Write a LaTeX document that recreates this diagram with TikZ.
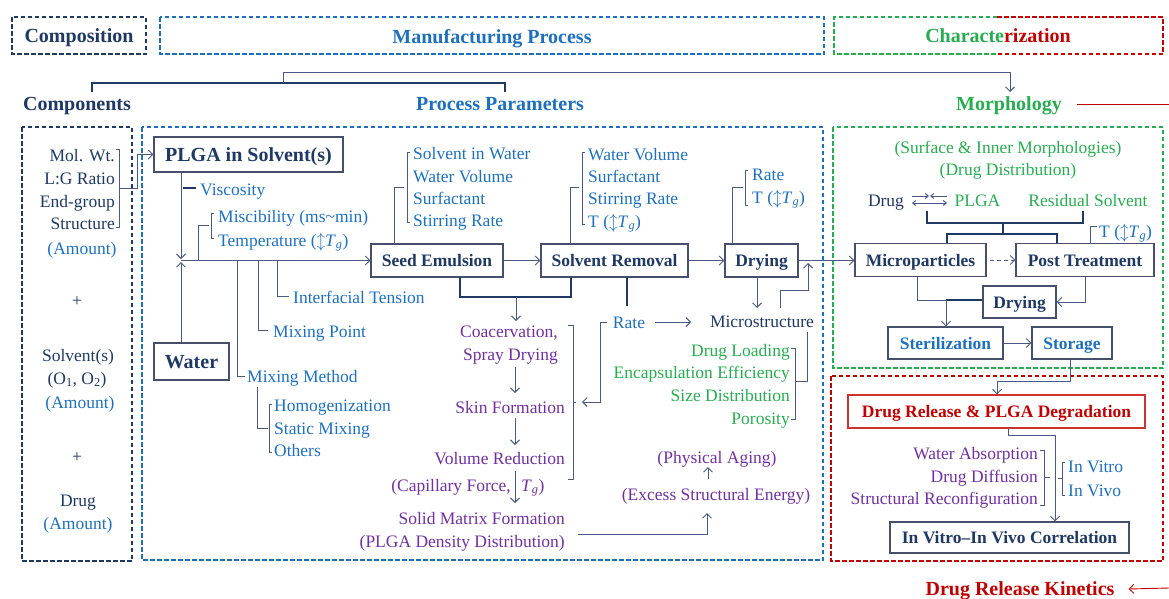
\documentclass[tikz,border=0pt]{standalone}
\usepackage{fontspec}
\setmainfont{Liberation Serif}
\usetikzlibrary{arrows.meta}
\definecolor{navy}{RGB}{31,56,100}
\definecolor{pblue}{RGB}{30,112,190}
\definecolor{pgreen}{RGB}{40,172,80}
\definecolor{pred}{RGB}{192,0,0}
\definecolor{ppurple}{RGB}{112,48,160}
\definecolor{lc}{RGB}{75,90,130}
\definecolor{bc}{RGB}{70,80,110}
\tikzset{
 tx/.style={inner sep=0, font=\fontsize{17.5}{21}\selectfont, text height=14pt, text depth=2pt},
 hd/.style={inner sep=0, font=\fontsize{20}{24}\selectfont\bfseries, text height=15.5pt, text depth=2.5pt},
 bx/.style={draw=bc, line width=1.1pt, inner sep=0, text height=14pt, text depth=2pt, font=\fontsize{17.5}{21}\selectfont\bfseries, text=navy, fill=white},
 bxl/.style={bx, font=\fontsize{20}{24}\selectfont\bfseries, text height=15.5pt, text depth=2.5pt},
 grp/.style={line width=1.4pt, dash pattern=on 4.5pt off 2.5pt},
 lnk/.style={draw=lc, line width=1pt},
 tk/.style={draw=navy, line width=1.8pt},
 arr/.style={-{Straight Barb[length=4.5pt,width=9pt]}},
 sarr/.style={-{Straight Barb[length=3pt,width=5pt]}},
}
\newcommand{\Tg}{\textit{T}\textsubscript{\textit{g}}}
\begin{document}
\begin{tikzpicture}[x=1pt,y=-1pt]
\useasboundingbox (0,0) rectangle (1169,598);

% ---------- top headers ----------
\draw[grp,navy] (12,17) rectangle (146,54);
\draw[grp,pblue] (160,17) rectangle (824,54);
\draw[grp,pgreen] (997,17) -- (834,17) -- (834,54) -- (997,54);
\draw[grp,pred] (997,17) -- (1163,17) -- (1163,54) -- (997,54);
\node[hd,text=navy] (hcomp) at (79,36) {Composition};
\node[hd,text=pblue] (hman) at (492,37) {Manufacturing Process};
\node[hd] (hchar) at (998,36) {\textcolor{pgreen}{Characte}\textcolor{pred}{rization}};

\draw[navy,line width=1.5pt] (92,92) -- (92,83) -- (505,83) -- (505,92);
\draw[lnk,arr] (283,83) -- (283,72) -- (1010,72) -- (1010,92);

\node[hd,text=navy] (hcompo) at (77,104) {Components};
\node[hd,text=pblue] (hpp) at (500,104) {Process Parameters};
\node[hd,text=pgreen] (hmorph) at (1009,104) {Morphology};
\draw[pred,line width=1pt] ([xshift=15pt]hmorph.east) -- (1169,104);

% ---------- group boxes ----------
\draw[grp,navy] (22,127) rectangle (132,561);
\draw[grp,pblue] (142,127) rectangle (823,560);
\draw[grp,pgreen] (833,127) rectangle (1163,368);
\draw[grp,pred] (831,376) rectangle (1163,561);

\node[hd,text=pred] (hdrk) at (1020,589) {Drug Release Kinetics};
\draw[pred,line width=0.9pt,arr] (1169,588) -- ([xshift=14pt]hdrk.east);

% ---------- components ----------
\node[tx,text=navy,anchor=east] (mw) at (115,155) {Mol. Wt.};
\node[tx,text=navy,anchor=east] (lg) at (115,178) {L:G Ratio};
\node[tx,text=navy,anchor=east] (eg) at (115,201) {End-group};
\node[tx,text=navy,anchor=east] (st) at (115,223) {Structure};
\draw[lnk] (116,149) -- (119,149) -- (119,227) -- (116,227);
\node[tx,text=pblue] (am1) at (82,248) {(Amount)};
\node[tx,text=navy] (pl1) at (77,300) {+};
\node[tx,text=navy] (solv) at (78,355) {Solvent(s)};
\node[tx,text=navy] (oo) at (77,378) {(O\textsubscript{1}, O\textsubscript{2})};
\node[tx,text=pblue] (am2) at (80,402) {(Amount)};
\node[tx,text=navy] (pl2) at (77,456) {+};
\node[tx,text=navy] (drug) at (78,500) {Drug};
\node[tx,text=pblue] (am3) at (78,523) {(Amount)};

% ---------- process parameters ----------
\node[bxl, minimum width=189pt, minimum height=35pt] (plga) at (248.5,154.5) {PLGA in Solvent(s)};
\node[bxl, minimum width=75pt, minimum height=37pt] (water) at (191.5,361.5) {Water};
\draw[lnk,arr] (119,188) -- (137,188) -- (137,154.5) -- (plga.west);
\coordinate (jn) at (181,260.5);
\draw[lnk,arr] (plga.south -| jn) -- ([yshift=1.5pt]jn);
\draw[lnk,arr] (water.north -| jn) -- ([yshift=-1.5pt]jn);

\draw[navy,line width=1.6pt] (183,188) -- (196,188);
\node[tx,text=pblue,anchor=west] (visc) at (200,189) {Viscosity};
\draw[lnk] (198,260.5) -- (198,225) -- (209,225);
\draw[lnk] (214,213) -- (211,213) -- (211,238) -- (214,238);
\node[tx,text=pblue,anchor=west] (misc) at (218,216) {Miscibility (ms\textasciitilde min)};
\node[tx,text=pblue,anchor=west] (temp) at (218,240) {Temperature ($\updownarrow$\Tg)};

\node[bx, minimum width=132pt, minimum height=33pt] (seed) at (437,260.5) {Seed Emulsion};
\node[bx, minimum width=147pt, minimum height=33pt] (srem) at (614.5,260.5) {Solvent Removal};
\node[bx, minimum width=73pt, minimum height=33pt] (dry1) at (761.5,260.5) {Drying};
\draw[lnk,arr] (jn) -- (seed.west);
\draw[lnk,arr] (seed) -- (srem);
\draw[lnk,arr] (srem) -- (dry1);

\draw[lnk] (237,260.5) |- (245,376);
\node[tx,text=pblue,anchor=west] (mm) at (247,376) {Mixing Method};
\draw[lnk] (258,260.5) |- (268,330);
\node[tx,text=pblue,anchor=west] (mp) at (273,331) {Mixing Point};
\draw[lnk] (277,260.5) |- (289,296);
\node[tx,text=pblue,anchor=west] (it) at (293,297) {Interfacial Tension};

\draw[lnk] (257,387) |- (268,428);
\draw[lnk] (272,404) -- (269,404) -- (269,452) -- (272,452);
\node[tx,text=pblue,anchor=west] (hom) at (274,405) {Homogenization};
\node[tx,text=pblue,anchor=west] (smx) at (274,428) {Static Mixing};
\node[tx,text=pblue,anchor=west] (oth) at (274,450) {Others};

% seed params
\draw[lnk] (394,244) |- (404,187);
\draw[lnk] (410,152) -- (407,152) -- (407,222) -- (410,222);
\node[tx,text=pblue,anchor=west] (s1) at (413,153) {Solvent in Water};
\node[tx,text=pblue,anchor=west] (s2) at (413,176) {Water Volume};
\node[tx,text=pblue,anchor=west] (s3) at (413,198) {Surfactant};
\node[tx,text=pblue,anchor=west] (s4) at (413,220) {Stirring Rate};
% solvent removal params
\draw[lnk] (570,244) |- (579,187);
\draw[lnk] (585,152) -- (582,152) -- (582,224) -- (585,224);
\node[tx,text=pblue,anchor=west] (r1) at (588,154) {Water Volume};
\node[tx,text=pblue,anchor=west] (r2) at (588,176) {Surfactant};
\node[tx,text=pblue,anchor=west] (r3) at (588,198) {Stirring Rate};
\node[tx,text=pblue,anchor=west] (r4) at (588,221) {T ($\updownarrow$\Tg)};
% drying params
\draw[lnk] (732,244) |- (743,187);
\draw[lnk] (748,170) -- (745,170) -- (745,205) -- (748,205);
\node[tx,text=pblue,anchor=west] (d1) at (752,174) {Rate};
\node[tx,text=pblue,anchor=west] (d2) at (752,197) {T ($\updownarrow$\Tg)};

% below boxes
\draw[tk] (460,277) -- (460,297) -- (571,297) -- (571,277);
\draw[lnk,arr] (516,297) -- (516,321);
\draw[tk] (627,277) -- (627,306);
\node[tx,text=pblue] (rate) at (629,322) {Rate};
\node[tx,text=navy] (mstr) at (762,321) {Microstructure};
\draw[lnk,arr] (655,322) -- (691,322);
\draw[lnk,arr] (607,322) -- (600,322) -- (600,402) -- (582,402);
\draw[lnk] (568,325) -- (573,325) -- (573,479) -- (568,479);
\draw[lnk] (573,402) -- (576,402);

\node[tx,text=ppurple,anchor=east] (coa) at (558,331) {Coacervation,};
\node[tx,text=ppurple,anchor=east] (spd) at (558,354) {Spray Drying};
\node[tx,text=ppurple,anchor=east] (skin) at (565,407) {Skin Formation};
\node[tx,text=ppurple,anchor=east] (vol) at (565,458) {Volume Reduction};
\node[tx,text=ppurple,anchor=east] (cap) at (511,485) {(Capillary Force,};
\node[tx,text=ppurple,anchor=west] (capt) at (521,485) {\Tg)};
\node[tx,text=ppurple,anchor=east] (smf) at (565,518) {Solid Matrix Formation};
\node[tx,text=ppurple,anchor=east] (pdd) at (565,541) {(PLGA Density Distribution)};
\draw[lnk,arr] (515,367) -- (515,393);
\draw[lnk,arr] (515,418) -- (515,445);
\draw[lnk,arr] (515,471) -- (515,503);

\draw[lnk,arr] (578,534) -| (707,513);
\node[tx,text=ppurple] (ese) at (716,494) {(Excess Structural Energy)};
\draw[lnk,arr] (708,479) -- (708,467);
\node[tx,text=ppurple] (pag) at (717,457) {(Physical Aging)};

\draw[lnk,arr] (757,277) -- (757,308);
\draw[lnk,arr] (780,308) -- (780,290) -- (808,290) -- (808,263);

\node[tx,text=pgreen,anchor=east] (g1) at (790,350) {Drug Loading};
\node[tx,text=pgreen,anchor=east] (g2) at (790,372) {Encapsulation Efficiency};
\node[tx,text=pgreen,anchor=east] (g3) at (790,395) {Size Distribution};
\node[tx,text=pgreen,anchor=east] (g4) at (790,418) {Porosity};
\draw[lnk] (791,348) -- (795,348) -- (795,419) -- (791,419);
\draw[lnk] (795,381) -- (807,381) -- (807,332);

% ---------- morphology ----------
\node[tx,text=pgreen] (sim) at (1008,147) {(Surface \& Inner Morphologies)};
\node[tx,text=pgreen] (ddi) at (1008,169) {(Drug Distribution)};
\node[tx,text=navy] (mdrug) at (886,200) {Drug};
\draw[lnk,sarr] (912,196) -- (929,196);
\draw[lnk,sarr] (947,196) -- (930,196);
\draw[lnk,{Straight Barb[length=3pt,width=5pt]}-{Straight Barb[length=3pt,width=5pt]}] (912,203) -- (947,203);
\node[tx,text=pgreen] (mplga) at (977.5,200) {PLGA};
\node[tx,text=pgreen] (rsol) at (1088,200) {Residual Solvent};
\draw[tk] (927,211) -- (927,223) -- (1083,223) -- (1083,211);
\draw[tk] (1003,223) -- (1003,234);
\draw[tk] (947,243) -- (947,234) -- (1057,234) -- (1057,243);

\node[bx, minimum width=131pt, minimum height=33pt] (micro) at (920.5,260) {Microparticles};
\node[bx, minimum width=138pt, minimum height=33pt] (post) at (1085,260) {Post Treatment};
\draw[lnk,arr] (dry1.east) -- (dry1.east -| micro.west);
\draw[lnk,arr,dash pattern=on 4pt off 3pt] (990,260) -- (post.west);
\draw[lnk] (1090,243.5) -- (1090,226) -- (1097,226);
\node[tx,text=pblue,anchor=west] (ptt) at (1099,231) {T ($\updownarrow$\Tg)};
\node[bx, minimum width=73pt, minimum height=32pt] (dry2) at (1019.5,302) {Drying};
\draw[lnk,arr] (1085,276.5) -- (1085,302) -- (dry2.east);
\draw[lnk] (917,276.5) -- (917,300) -- (946,300);
\draw[tk] (946,300) -- (dry2.west |- 946,300);
\node[bx, text=pblue, minimum width=115pt, minimum height=32pt] (ster) at (945.5,343) {Sterilization};
\node[bx, text=pblue, minimum width=80pt, minimum height=32pt] (stor) at (1072,343) {Storage};
\draw[lnk,arr] (946,300) -- (ster.north -| 946,300);
\draw[lnk,arr] (ster) -- (stor);

% ---------- drug release ----------
\node[bx, draw=pred!80, text=pred, minimum width=297pt, minimum height=33pt] (rel) at (996.5,411.5) {Drug Release \& PLGA Degradation};
\draw[lnk,arr] (1070,359) -- (1070,381) -- (997,381) -- (rel.north -| 997,381);
\node[bx, minimum width=239pt, minimum height=31pt] (ivivc) at (1009.5,537.5) {In Vitro–In Vivo Correlation};
\draw[lnk,arr] (1008,428) -- (1008,435) -- (1055,435) -- (ivivc.north -| 1055,435);
\node[tx,text=ppurple,anchor=east] (wa) at (1038,453) {Water Absorption};
\node[tx,text=ppurple,anchor=east] (ddf) at (1038,476) {Drug Diffusion};
\node[tx,text=ppurple,anchor=east] (src) at (1038,498) {Structural Reconfiguration};
\draw[lnk] (1040,450) -- (1044,450) -- (1044,505) -- (1040,505);
\draw[lnk] (1044,477) -- (1050,477);
\draw[lnk] (1065,462) -- (1062,462) -- (1062,495) -- (1065,495);
\draw[lnk] (1058,478) -- (1062,478);
\node[tx,text=pblue,anchor=west] (iv1) at (1068,466) {In Vitro};
\node[tx,text=pblue,anchor=west] (iv2) at (1068,490) {In Vivo};
\end{tikzpicture}
\end{document}
